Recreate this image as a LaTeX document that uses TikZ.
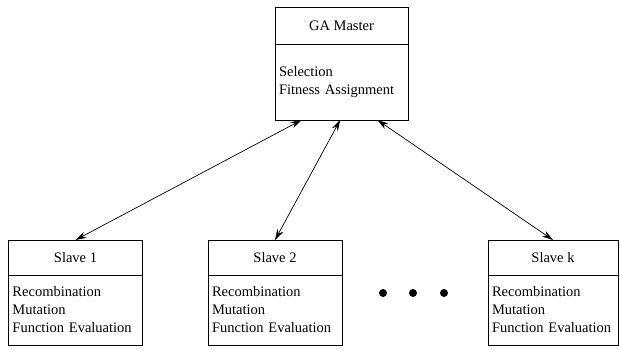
\documentclass[tikz,border=0pt]{standalone}
\usepackage{fontspec}
\setmainfont{Liberation Serif}
\usetikzlibrary{positioning, arrows.meta, calc}
\tikzset{
		head nodes/.style={
			rectangle,
			draw=black,
			line width=0.7pt,
			minimum width=#1,
			minimum height=35pt,
			inner sep=0pt,
			outer sep=0pt,
			font=\fontsize{14.5}{18}\selectfont
		},
		head nodes/.default=134pt,
		body nodes/.style={
			rectangle,
			draw=black,
			line width=0.7pt,
			text width=#1,
			align=left,
			minimum height=70pt,
			inner xsep=4pt,
			inner ysep=0pt,
			outer sep=0pt,
			font=\fontsize{14.5}{18}\selectfont
		},
		body nodes/.default=126pt,
		dot/.style={
			circle,
			fill=black,
			minimum size=8pt,
			inner sep=0pt
		},
		link/.style={
			{Stealth[length=11pt,width=6.5pt]}-{Stealth[length=11pt,width=6.5pt]},
			line width=0.7pt
		}
	}
\begin{document}
\begin{tikzpicture}[x=1pt, y=-1pt]
		\useasboundingbox (0,0) rectangle (620,350);
		% master
		\node[head nodes=133pt, minimum height=37pt] (master) at (341.5,25.5) {GA Master};
		\node[body nodes=125pt, minimum height=76pt, below=0pt of master] (master body)
			{Selection\\Fitness Assignment};
		% slaves
		\node[head nodes] (slave1) at (75.5,257.5) {Slave 1};
		\node[body nodes, below=0pt of slave1] (slave1 body)
			{Recombination\\Mutation\\Function Evaluation};
		\node[head nodes] (slave2) at (275,257.5) {Slave 2};
		\node[body nodes, below=0pt of slave2] (slave2 body)
			{Recombination\\Mutation\\Function Evaluation};
		\node[head nodes=130pt] (slavek) at (553,257.5) {Slave k};
		\node[body nodes=122pt, below=0pt of slavek] (slavek body)
			{Recombination\\Mutation\\Function Evaluation};
		% dots
		\foreach \i/\x in {1/383, 2/413, 3/444}
			\node[dot] (dot\i) at (\x,293) {};
		%arrows:
		\draw[link] ($(master body.south west)!0.2!(master body.south east)$) -- (slave1.north);
		\draw[link] ($(master body.south west)!0.49!(master body.south east)$) -- (slave2.north);
		\draw[link] ($(master body.south west)!0.77!(master body.south east)$) -- (slavek.north);
	\end{tikzpicture}
\end{document}
